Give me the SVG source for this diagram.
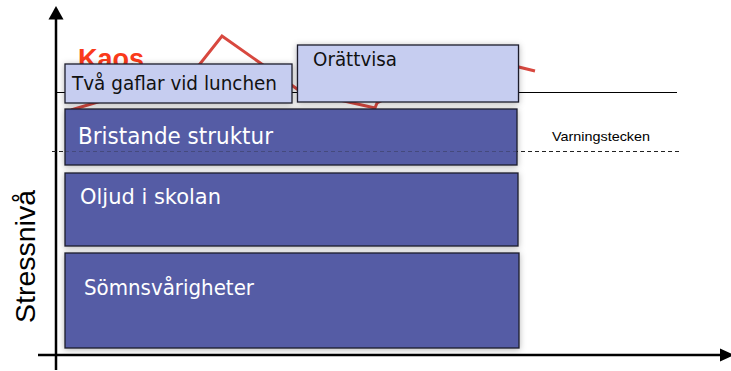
<svg xmlns="http://www.w3.org/2000/svg" width="731" height="371" viewBox="0 0 731 371">
<style>
.dark{fill:#555ba5;stroke:#1c1c2c;stroke-width:1.3}
.light{fill:#c6cdf0;stroke:#1c1c2c;stroke-width:1.3}
.wt{font-family:"DejaVu Sans","Liberation Sans",sans-serif;fill:#ffffff}
.bt{font-family:"DejaVu Sans","Liberation Sans",sans-serif;fill:#111111}
.ax{stroke:#000;stroke-width:2.5;fill:none}
</style>
<defs>
<filter id="sh" x="-10%" y="-20%" width="120%" height="140%">
<feDropShadow dx="0" dy="1" stdDeviation="3" flood-color="#000" flood-opacity="0.3"/>
</filter>
</defs>
<rect width="731" height="371" fill="#fff"/>
<g id="axes">
<line class="ax" x1="56" y1="370" x2="56" y2="18"/>
<polygon points="56,6 48.5,19.5 63.5,19.5" fill="#000"/>
<line class="ax" x1="38" y1="355" x2="722" y2="355"/>
<polygon points="734,355 720,348.5 720,361.5" fill="#000"/>
<text x="35" y="323" transform="rotate(-90 35 323)" font-family="'Liberation Sans',Arial,sans-serif" font-size="28.5" fill="#000">Stressnivå</text>
</g>
<g id="connectors">
<line x1="57" y1="92.5" x2="677" y2="92.5" stroke="#000" stroke-width="1"/>
<line x1="52" y1="151.5" x2="680" y2="151.5" stroke="#222" stroke-width="1" stroke-dasharray="4,3"/>
<polyline points="71,110 192,74 222,36 300,91 375,108 377,103 470,55 535,71" fill="none" stroke="#d8483f" stroke-width="3"/>
</g>
<text id="kaos" x="78" y="68" font-family="'Liberation Sans',Arial,sans-serif" font-weight="bold" font-size="27" fill="#fa3a1a">Kaos</text>
<g id="varning">
<text x="552" y="141" font-family="'Liberation Sans',Arial,sans-serif" font-size="13" fill="#000" textLength="98" lengthAdjust="spacingAndGlyphs">Varningstecken</text>
</g>
<g id="somn">
<rect class="dark" x="65" y="253" width="454" height="95" filter="url(#sh)"/>
<text class="wt" x="84" y="295" font-size="21.5" textLength="170" lengthAdjust="spacingAndGlyphs">Sömnsvårigheter</text>
</g>
<g id="oljud">
<rect class="dark" x="65" y="173" width="453" height="73" filter="url(#sh)"/>
<text class="wt" x="80" y="204" font-size="21.5" textLength="141" lengthAdjust="spacingAndGlyphs">Oljud i skolan</text>
</g>
<g id="bristande">
<rect class="dark" x="65" y="109" width="452" height="56" filter="url(#sh)"/>
<line x1="65" y1="151.5" x2="517" y2="151.5" stroke="#222" stroke-width="1" stroke-dasharray="4,3" opacity="0.3"/>
<text class="wt" x="78" y="144" font-size="22.5" textLength="195" lengthAdjust="spacingAndGlyphs">Bristande struktur</text>
</g>
<g id="tva-gaflar">
<rect class="light" x="65" y="64" width="227" height="39" filter="url(#sh)"/>
<text class="bt" x="72" y="90" font-size="20" textLength="205" lengthAdjust="spacingAndGlyphs">Två gaflar vid lunchen</text>
</g>
<g id="orattvisa">
<rect class="light" x="297.5" y="45" width="221" height="57" filter="url(#sh)"/>
<text class="bt" x="313" y="66" font-size="19.5" textLength="84" lengthAdjust="spacingAndGlyphs">Orättvisa</text>
</g>
</svg>
